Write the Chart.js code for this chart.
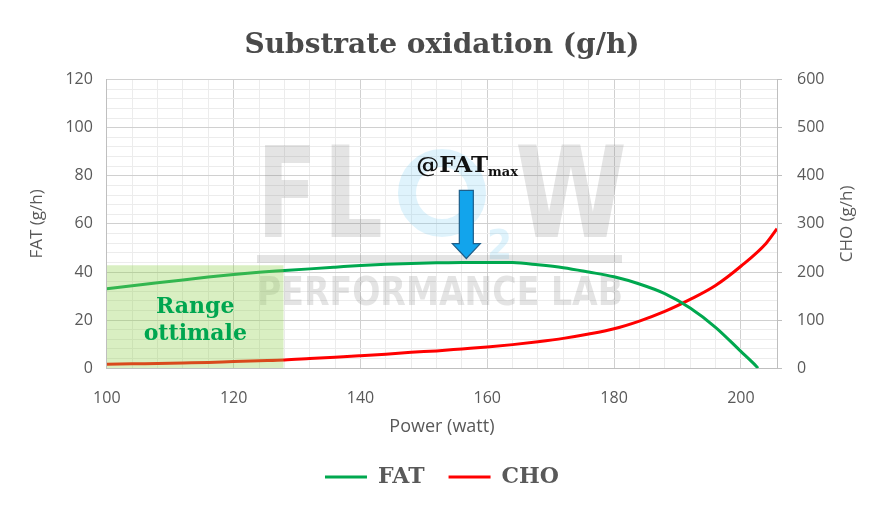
<!DOCTYPE html>
<html>
<head>
<meta charset="utf-8">
<script src="https://cdn.jsdelivr.net/npm/chart.js@4.4.1/dist/chart.umd.min.js"></script>
<style>
  html, body { margin: 0; padding: 0; background: #fff; }
  #wrap { width: 884px; height: 522px; }
</style>
</head>
<body>
<div id="wrap"><canvas id="chart" width="884" height="522"></canvas></div>
<script>
// ── Data ────────────────────────────────────────────────────
const watts     = [100, 104, 108, 112, 116, 120, 124, 128, 132, 136, 140, 144, 148, 152, 156, 160, 164, 168, 172, 176, 180, 184, 188, 192, 196, 200, 202, 202.7];
const fatValues = [33, 34.3, 35.5, 36.7, 37.9, 39, 39.9, 40.6, 41.3, 42, 42.7, 43.2, 43.5, 43.8, 44, 44, 43.9, 43, 41.8, 40, 38, 35, 31, 25, 17, 7, 2, 0];

const choWatts  = [100, 104, 108, 112, 116, 120, 124, 128, 132, 136, 140, 144, 148, 152, 156, 160, 164, 168, 172, 176, 180, 184, 188, 192, 196, 200, 204, 205.7];
const choValues = [8, 9, 10, 11, 12, 14, 15.5, 17, 20, 23, 26, 29, 33, 36, 40, 44, 49, 55, 62, 71, 82, 98, 118, 143, 172, 212, 260, 290];

const rangeWatts = [100, 127.9];   // "Range ottimale" band
const rangeTop   = [42.8, 42.8];

const fatMaxWatt = 156.7;
const xMin = 100, xMax = 205.7;

const SLAB = '"DejaVu Serif", serif';
const TICK_FONT = '"Open Sans", sans-serif';
const GREY = '#595959';

const gridColor = ctx => (ctx.tick && ctx.tick.value % 20 === 0) ? '#d0d0d0' : '#ececec';
const every20 = v => (v % 20 === 0 ? v : '');

// watermark + annotations, drawn as decorations over the chart area
const decorations = {
  id: 'decorations',
  beforeDatasetsDraw(chart) {
    const c = chart.ctx;
    c.save();
    const wm = 'rgba(120,120,120,0.2)';
    c.fillStyle = wm;
    c.font = 'bold 126px "DejaVu Sans", sans-serif';
    c.textBaseline = 'alphabetic';
    c.fillText('F', 257, 237, 60);
    c.fillText('L', 323, 237, 60);
    // blue O with small 2
    c.strokeStyle = 'rgba(110,200,240,0.22)';
    c.lineWidth = 18;
    c.beginPath();
    c.arc(442, 193, 35, 0, Math.PI * 2);
    c.stroke();
    c.fillStyle = 'rgba(110,200,240,0.22)';
    c.font = 'bold 40px "DejaVu Sans", sans-serif';
    c.fillText('2', 487, 259, 25);
    c.fillStyle = wm;
    c.font = 'bold 126px "DejaVu Sans", sans-serif';
    c.fillText('W', 515, 237, 112);
    c.fillRect(257, 255, 365, 8);
    c.font = 'bold 39px "DejaVu Sans", sans-serif';
    c.fillText('PERFORMANCE LAB', 257, 305, 366);
    c.restore();
  },
  afterDatasetsDraw(chart) {
    const c = chart.ctx;
    const x = chart.scales.x, y = chart.scales.y;
    c.save();
    // Range ottimale label
    c.fillStyle = '#00a650';
    c.font = 'bold 22px ' + SLAB;
    c.textAlign = 'center';
    c.textBaseline = 'middle';
    const cx = x.getPixelForValue((rangeWatts[0] + rangeWatts[1]) / 2);
    c.fillText('Range', cx, y.getPixelForValue(25.5));
    c.fillText('ottimale', cx, y.getPixelForValue(14));

    // @FATmax arrow
    const ax = x.getPixelForValue(fatMaxWatt);
    const top = y.getPixelForValue(73.9), neck = y.getPixelForValue(51.8), tip = y.getPixelForValue(45.6);
    c.beginPath();
    c.moveTo(ax - 7, top); c.lineTo(ax + 7, top); c.lineTo(ax + 7, neck);
    c.lineTo(ax + 14, neck); c.lineTo(ax, tip); c.lineTo(ax - 14, neck);
    c.lineTo(ax - 7, neck); c.closePath();
    c.fillStyle = '#12a4ec';
    c.fill();
    c.strokeStyle = '#1f5f8a';
    c.lineWidth = 1.2;
    c.stroke();

    // @FATmax text
    c.fillStyle = '#111';
    c.textAlign = 'left';
    c.textBaseline = 'alphabetic';
    c.font = 'bold 23px ' + SLAB;
    const tx = ax - 50, ty = y.getPixelForValue(81.5);
    c.fillText('@FAT', tx, ty);
    const w = c.measureText('@FAT').width;
    c.font = 'bold 13px ' + SLAB;
    c.fillText('max', tx + w, ty + 4);
    c.restore();
  },
  afterDraw(chart) {
    // right axis title, read bottom-to-top like the left one
    const c = chart.ctx;
    const a = chart.chartArea;
    c.save();
    c.translate(847, (a.top + a.bottom) / 2);
    c.rotate(-Math.PI / 2);
    c.fillStyle = GREY;
    c.font = '17px ' + TICK_FONT;
    c.textAlign = 'center';
    c.textBaseline = 'middle';
    c.fillText('CHO (g/h)', 0, 0);
    c.restore();
  }
};

new Chart(document.getElementById('chart'), {
  type: 'line',
  data: {
    datasets: [
      {
        label: 'range',
        data: rangeWatts.map((w, i) => ({ x: w, y: rangeTop[i] })),
        yAxisID: 'y',
        borderWidth: 0,
        pointRadius: 0,
        fill: 'origin',
        backgroundColor: 'rgba(146,208,80,0.35)',
      },
      {
        label: 'FAT',
        data: watts.map((w, i) => ({ x: w, y: fatValues[i] })),
        yAxisID: 'y',
        borderColor: '#00a84f',
        backgroundColor: '#00a84f',
        borderWidth: 3,
        pointRadius: 0,
        cubicInterpolationMode: 'monotone',
        pointStyle: 'line',
      },
      {
        label: 'CHO',
        data: choWatts.map((w, i) => ({ x: w, y: choValues[i] })),
        yAxisID: 'y1',
        borderColor: '#ff0000',
        backgroundColor: '#ff0000',
        borderWidth: 3,
        pointRadius: 0,
        cubicInterpolationMode: 'monotone',
        pointStyle: 'line',
      },
    ],
  },
  options: {
    responsive: false,
    animation: false,
    layout: { padding: { left: 23, right: 23, top: 10, bottom: 24 } },
    plugins: {
      tooltip: { enabled: false },
      title: {
        display: true,
        text: 'Substrate oxidation (g/h)',
        color: '#4a4a4a',
        font: { family: SLAB, size: 28, weight: 'bold' },
        padding: { top: 19, bottom: 17 },
      },
      legend: {
        position: 'bottom',
        labels: {
          filter: item => item.text !== 'range',
          usePointStyle: true,
          pointStyleWidth: 42,
          color: GREY,
          font: { family: SLAB, size: 22, weight: 'bold' },
          padding: 24,
        },
      },
    },
    scales: {
      x: {
        type: 'linear',
        min: xMin,
        max: xMax,
        ticks: { stepSize: 4, callback: every20, autoSkip: false, maxRotation: 0, color: GREY, font: { family: TICK_FONT, size: 16 }, padding: 21 },
        grid: { color: gridColor, drawTicks: false },
        border: { color: '#bfbfbf' },
        title: { display: true, text: 'Power (watt)', color: GREY, font: { family: TICK_FONT, size: 18 }, padding: { top: -13 } },
      },
      y: {
        position: 'left',
        min: 0,
        max: 120,
        ticks: { stepSize: 4, callback: every20, autoSkip: false, color: GREY, font: { family: TICK_FONT, size: 16 }, padding: 14 },
        grid: { color: gridColor, drawTicks: false },
        border: { color: '#bfbfbf' },
        title: { display: true, text: 'FAT (g/h)', color: GREY, font: { family: TICK_FONT, size: 17 } },
      },
      y1: {
        position: 'right',
        min: 0,
        max: 600,
        ticks: { stepSize: 100, color: GREY, font: { family: TICK_FONT, size: 16 }, padding: 15 },
        grid: { drawOnChartArea: false, color: '#bfbfbf', tickLength: 5 },
        border: { color: '#bfbfbf' },
        afterFit: scale => { scale.width = 84; },   // room for the hand-drawn CHO title
      },
    },
  },
  plugins: [decorations],
});
</script>
</body>
</html>
